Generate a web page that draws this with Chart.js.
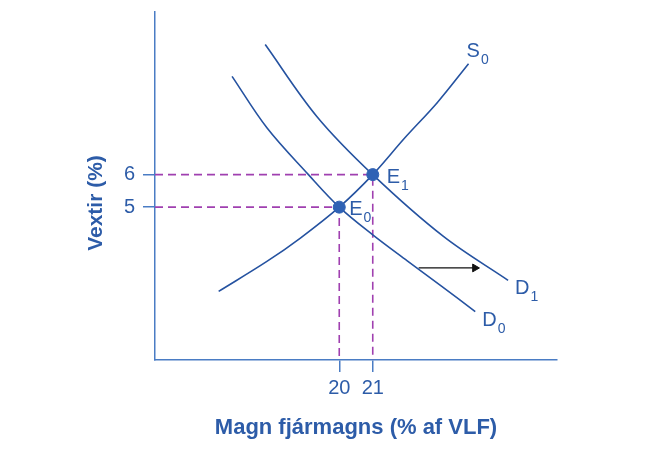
<!DOCTYPE html>
<html>
<head>
<meta charset="utf-8">
<script src="https://cdn.jsdelivr.net/npm/chart.js@4/dist/chart.umd.min.js"></script>
<style>
  html, body { margin: 0; padding: 0; background: #fff; }
  #wrap { width: 650px; height: 456px; }
</style>
</head>
<body>
<div id="wrap"><canvas id="chart"></canvas></div>
<script>
// axis ticks
const xTicks = [20, 21];
const yTicks = [5, 6];

// supply curve S0
const s0X = [16.40, 17.84, 18.84, 20, 21, 21.94, 22.93, 23.86];
const s0Y = [2.41, 3.33, 4.05, 5, 6, 7.11, 8.22, 9.41];

// demand curve D0
const d0X = [16.80, 17.84, 19.08, 20, 21.01, 22.03, 23.04, 24.06];
const d0Y = [9.02, 7.44, 6.0, 5, 4.14, 3.35, 2.58, 1.79];

// demand curve D1 (shifted right)
const d1X = [17.79, 19.33, 21, 23.11, 25.04];
const d1Y = [10.0, 7.79, 6, 4.10, 2.75];

// equilibria E0, E1
const eqX = [20, 21];
const eqY = [5, 6];

// shift arrow
const arrowX = [22.37, 24.05];
const arrowY = [3.13, 3.13];

const X_MIN = 14.5, X_MAX = 26.5;
const Y_MIN = 0.3, Y_MAX = 11;

const BLUE_TEXT = "#2d5ca8";
const BLUE_LINE = "#2552a0";
const BLUE_AXIS = "#4a7cc4";
const PURPLE = "#a040b0";
const FONT = "'Liberation Sans', Arial, sans-serif";

const pts = (xs, ys) => xs.map((x, i) => ({ x: x, y: ys[i] }));

// dashed guide from y axis to the point and down to x axis
const guide = (i) => [
  { x: X_MIN, y: eqY[i] },
  { x: eqX[i], y: eqY[i] },
  { x: eqX[i], y: Y_MIN },
];

// curve labels with subscripts, offsets in pixels from the anchor point
const labels = [
  { main: "S", sub: "0", x: s0X[s0X.length - 1], y: s0Y[s0Y.length - 1], dx: -2, dy: -7 },
  { main: "E", sub: "1", x: eqX[1], y: eqY[1], dx: 14, dy: 8 },
  { main: "E", sub: "0", x: eqX[0], y: eqY[0], dx: 10, dy: 8 },
  { main: "D", sub: "1", x: d1X[d1X.length - 1], y: d1Y[d1Y.length - 1], dx: 7, dy: 14 },
  { main: "D", sub: "0", x: d0X[d0X.length - 1], y: d0Y[d0Y.length - 1], dx: 7, dy: 14 },
];

const annotate = {
  id: "annotate",
  afterDraw(chart) {
    const { ctx, scales } = chart;
    ctx.save();
    ctx.fillStyle = BLUE_TEXT;
    ctx.textBaseline = "alphabetic";
    ctx.textAlign = "left";
    labels.forEach((l) => {
      const px = scales.x.getPixelForValue(l.x) + l.dx;
      const py = scales.y.getPixelForValue(l.y) + l.dy;
      ctx.font = "20px " + FONT;
      ctx.fillText(l.main, px, py);
      const w = ctx.measureText(l.main).width;
      ctx.font = "14px " + FONT;
      ctx.fillText(l.sub, px + w + 1, py + 7);
    });

    // y axis title
    ctx.font = "bold 21px " + FONT;
    ctx.textAlign = "center";
    ctx.textBaseline = "middle";
    ctx.translate(96, 203);
    ctx.rotate(-Math.PI / 2);
    ctx.fillText("Vextir (%)", 0, 0);
    ctx.restore();
  },
};

const curve = (xs, ys) => ({
  data: pts(xs, ys),
  showLine: true,
  borderColor: BLUE_LINE,
  borderWidth: 1.6,
  pointRadius: 0,
  tension: 0.35,
  order: 1,
});

const dashed = (i) => ({
  data: guide(i),
  showLine: true,
  borderColor: PURPLE,
  borderWidth: 1.6,
  borderDash: [8, 5],
  pointRadius: 0,
  order: 2,
});

new Chart(document.getElementById("chart"), {
  type: "scatter",
  data: {
    datasets: [
      {
        data: pts(eqX, eqY),
        backgroundColor: "#2f62b5",
        borderColor: "#2f62b5",
        pointRadius: 6,
        showLine: false,
        order: 0,
      },
      curve(s0X, s0Y),
      curve(d0X, d0Y),
      curve(d1X, d1Y),
      {
        data: pts(arrowX, arrowY),
        showLine: true,
        borderColor: "#111",
        backgroundColor: "#111",
        borderWidth: 1.3,
        pointStyle: "triangle",
        rotation: 90,
        pointRadius: [0, 4.5],
        pointBorderWidth: 1,
        order: 1,
      },
      dashed(0),
      dashed(1),
    ],
  },
  options: {
    responsive: true,
    maintainAspectRatio: false,
    animation: false,
    layout: { padding: { left: 0, top: 12, right: 93, bottom: 0 } },
    plugins: {
      legend: { display: false },
      tooltip: { enabled: false },
    },
    scales: {
      x: {
        type: "linear",
        min: X_MIN,
        max: X_MAX,
        afterBuildTicks: (axis) => {
          axis.ticks = xTicks.map((v) => ({ value: v }));
        },
        afterFit: (scale) => {
          scale.height = 96;
          scale.paddingLeft = 0;
          scale.paddingRight = 0;
        },
        grid: {
          display: true,
          drawOnChartArea: false,
          drawTicks: true,
          tickLength: 12,
          color: BLUE_AXIS,
          lineWidth: 1.5,
        },
        border: { display: true, color: BLUE_AXIS, width: 1.5 },
        ticks: {
          color: BLUE_TEXT,
          padding: 4,
          font: { family: FONT, size: 20 },
        },
        title: {
          display: true,
          text: "Magn fjármagns (% af VLF)",
          color: BLUE_TEXT,
          font: { family: FONT, size: 22, weight: "bold" },
          padding: { top: 0, bottom: 15 },
        },
      },
      y: {
        type: "linear",
        min: Y_MIN,
        max: Y_MAX,
        afterBuildTicks: (axis) => {
          axis.ticks = yTicks.map((v) => ({ value: v }));
        },
        afterFit: (scale) => {
          scale.width = 155;
          scale.paddingTop = 0;
          scale.paddingBottom = 0;
        },
        grid: {
          display: true,
          drawOnChartArea: false,
          drawTicks: true,
          tickLength: 12,
          color: BLUE_AXIS,
          lineWidth: 1.5,
        },
        border: { display: true, color: BLUE_AXIS, width: 1.5 },
        ticks: {
          color: BLUE_TEXT,
          padding: 8,
          font: { family: FONT, size: 20 },
        },
      },
    },
  },
  plugins: [annotate],
});
</script>
</body>
</html>
